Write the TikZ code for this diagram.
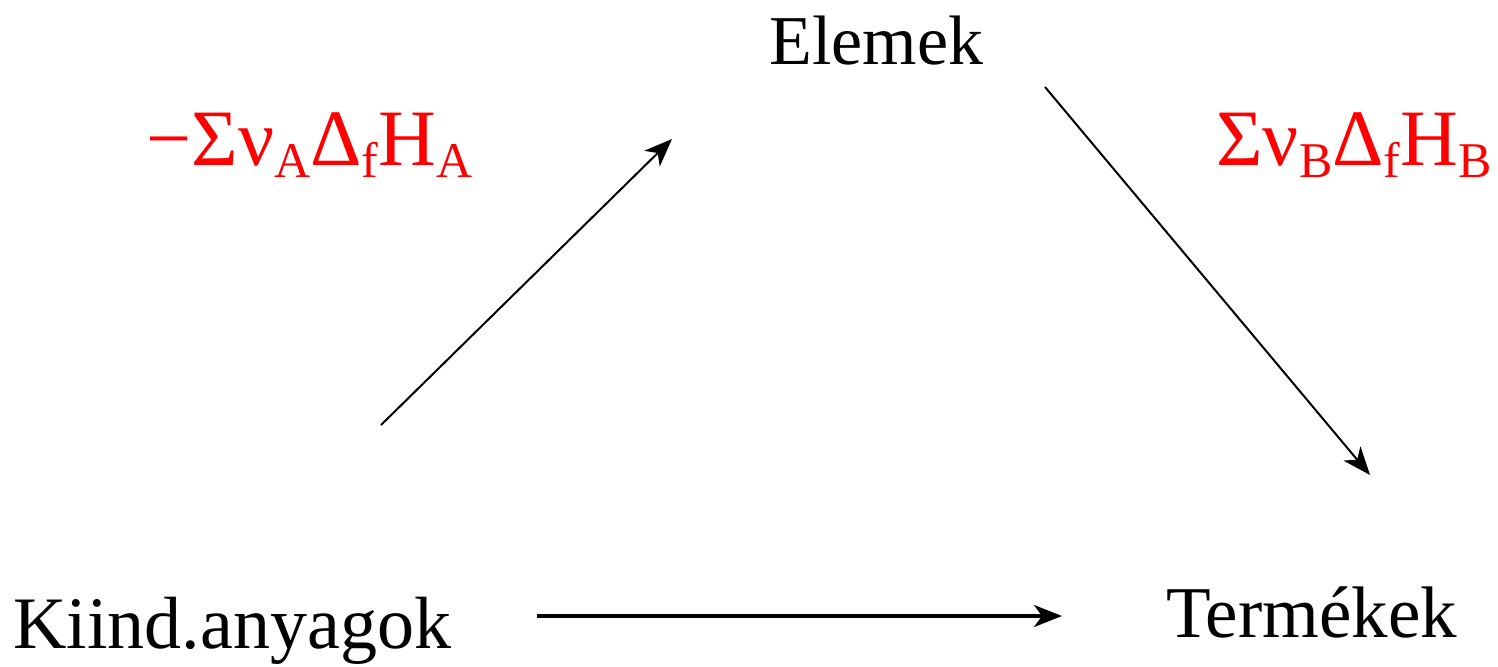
\documentclass[tikz,border=0pt]{standalone}
\usepackage{fontspec}
\setmainfont{Liberation Serif}
\usetikzlibrary{arrows.meta,positioning}
\newcommand{\lowsub}[1]{\raisebox{-6pt}{\fontsize{25}{25}\selectfont #1}}

\begin{document}
\begin{tikzpicture}[
    x=0.5pt, y=-0.5pt,
    species/.style={
        anchor=base west,
        inner sep=0pt,
        font=\fontsize{35}{40}\selectfont
    },
    enthalpy/.style={
        anchor=base west,
        inner sep=0pt,
        text=red,
        font=\fontsize{40}{46}\selectfont
    },
    arrow/.style={
        -{Stealth[length=14pt,width=11pt,inset=4pt]},
        line width=1pt
    }
]
\useasboundingbox (0,0) rectangle (1498,666);

\node[species, font=\fontsize{37}{42}\selectfont] (reactants) at (13,648) {Kiind.anyagok};
\node[species] (elements) at (769,64) {Elemek};
\node[species, font=\fontsize{36.5}{42}\selectfont] (products) at (1166,637) {Termékek};

\node[enthalpy] (formA) at (146,165)
    {−Σν\lowsub{A}Δ\lowsub{f}H\lowsub{A}};
\node[enthalpy] (formB) at (1216,165)
    {Σν\lowsub{B}Δ\lowsub{f}H\lowsub{B}};

\coordinate (upstart) at (381,425);
\coordinate (upend) at (672,139);
\coordinate (downstart) at (1045,87);
\coordinate (downend) at (1370,475);
\coordinate (directstart) at (537,616);
\coordinate (directend) at (1062,616);

\draw[arrow] (upstart) -- (upend);
\draw[arrow] (downstart) -- (downend);
\draw[arrow, line width=1.6pt] (directstart) -- (directend);

\end{tikzpicture}
\end{document}
